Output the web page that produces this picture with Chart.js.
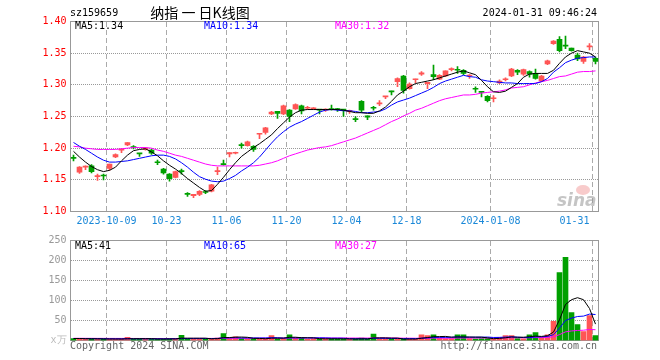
<!DOCTYPE html>
<html>
<head>
<meta charset="utf-8">
<script src="https://cdn.jsdelivr.net/npm/chart.js@4.4.1/dist/chart.umd.min.js"></script>
<style>
  body { margin: 0; background: #fff; }
  #wrap { position: relative; width: 660px; height: 360px; }
  canvas { position: absolute; left: 0; }
  #kline { top: 0; }
  #vol { top: 230px; }
</style>
</head>
<body>
<div id="wrap">
  <canvas id="kline" width="660" height="230"></canvas>
  <canvas id="vol" width="660" height="130"></canvas>
</div>
<script>
// trading days shown
const dates = [
  "2023-09-21","2023-09-22","2023-09-25","2023-09-26","2023-09-27","2023-09-28",
  "2023-10-09","2023-10-10","2023-10-11","2023-10-12","2023-10-13",
  "2023-10-16","2023-10-17","2023-10-18","2023-10-19","2023-10-20",
  "2023-10-23","2023-10-24","2023-10-25","2023-10-26","2023-10-27",
  "2023-10-30","2023-10-31","2023-11-01","2023-11-02","2023-11-03",
  "2023-11-06","2023-11-07","2023-11-08","2023-11-09","2023-11-10",
  "2023-11-13","2023-11-14","2023-11-15","2023-11-16","2023-11-17",
  "2023-11-20","2023-11-21","2023-11-22","2023-11-23","2023-11-24",
  "2023-11-27","2023-11-28","2023-11-29","2023-11-30","2023-12-01",
  "2023-12-04","2023-12-05","2023-12-06","2023-12-07","2023-12-08",
  "2023-12-11","2023-12-12","2023-12-13","2023-12-14","2023-12-15",
  "2023-12-18","2023-12-19","2023-12-20","2023-12-21","2023-12-22",
  "2023-12-25","2023-12-26","2023-12-27","2023-12-28","2023-12-29",
  "2024-01-02","2024-01-03","2024-01-04","2024-01-05",
  "2024-01-08","2024-01-09","2024-01-10","2024-01-11","2024-01-12",
  "2024-01-15","2024-01-16","2024-01-17","2024-01-18","2024-01-19",
  "2024-01-22","2024-01-23","2024-01-24","2024-01-25","2024-01-26",
  "2024-01-29","2024-01-30","2024-01-31"
];

const opens = [1.185,1.162,1.170,1.172,1.155,1.157,1.168,1.186,1.197,1.205,
  1.202,1.192,1.198,1.197,1.178,1.167,1.159,1.154,1.164,1.128,
  1.125,1.127,1.131,1.132,1.163,1.175,1.191,1.192,1.205,1.204,
  1.203,1.222,1.225,1.254,1.258,1.254,1.260,1.262,1.267,1.263,
  1.262,1.261,1.260,1.262,1.262,1.261,1.258,1.246,1.274,1.251,
  1.264,1.270,1.281,1.290,1.305,1.314,1.294,1.308,1.317,1.302,
  1.316,1.309,1.314,1.324,1.324,1.323,1.314,1.294,1.289,1.282,
  1.278,1.303,1.308,1.314,1.323,1.317,1.321,1.318,1.306,1.333,
  1.365,1.372,1.362,1.358,1.347,1.337,1.360,1.342];
const highs = [1.189,1.171,1.172,1.174,1.159,1.159,1.175,1.191,1.199,1.209,
  1.204,1.192,1.201,1.198,1.181,1.168,1.160,1.164,1.167,1.130,
  1.127,1.133,1.133,1.143,1.170,1.181,1.193,1.194,1.208,1.211,
  1.204,1.223,1.233,1.258,1.258,1.268,1.261,1.270,1.268,1.266,
  1.264,1.261,1.262,1.268,1.263,1.261,1.260,1.250,1.275,1.251,
  1.266,1.275,1.282,1.290,1.311,1.315,1.303,1.309,1.321,1.304,
  1.331,1.316,1.322,1.327,1.329,1.324,1.316,1.297,1.289,1.283,
  1.283,1.308,1.311,1.326,1.324,1.325,1.322,1.325,1.315,1.339,
  1.370,1.376,1.377,1.358,1.350,1.345,1.365,1.344];
const lows = [1.180,1.160,1.166,1.161,1.149,1.150,1.165,1.185,1.193,1.204,
  1.199,1.187,1.197,1.190,1.174,1.159,1.148,1.153,1.159,1.124,
  1.122,1.125,1.128,1.131,1.158,1.173,1.186,1.191,1.200,1.203,
  1.195,1.215,1.222,1.253,1.247,1.253,1.242,1.261,1.254,1.261,
  1.261,1.254,1.258,1.260,1.258,1.250,1.255,1.242,1.257,1.245,
  1.260,1.267,1.278,1.284,1.297,1.287,1.293,1.303,1.315,1.294,
  1.308,1.308,1.313,1.322,1.318,1.316,1.310,1.288,1.281,1.273,
  1.273,1.302,1.306,1.313,1.316,1.315,1.312,1.309,1.305,1.332,
  1.364,1.352,1.357,1.353,1.338,1.334,1.355,1.333];
const closes = [1.184,1.170,1.171,1.163,1.156,1.156,1.175,1.190,1.198,1.209,
  1.201,1.191,1.200,1.192,1.177,1.161,1.152,1.163,1.163,1.127,
  1.127,1.132,1.130,1.142,1.164,1.174,1.193,1.193,1.204,1.210,
  1.198,1.223,1.232,1.257,1.255,1.267,1.250,1.269,1.259,1.264,
  1.263,1.260,1.261,1.261,1.261,1.260,1.259,1.245,1.260,1.249,
  1.263,1.271,1.282,1.289,1.310,1.291,1.301,1.309,1.319,1.304,
  1.313,1.315,1.322,1.325,1.323,1.318,1.315,1.293,1.288,1.275,
  1.279,1.306,1.309,1.325,1.320,1.324,1.317,1.310,1.314,1.338,
  1.369,1.354,1.361,1.354,1.341,1.344,1.361,1.337];

const ma5 = [1.195,1.186,1.178,1.171,1.166,1.163,1.165,1.170,1.180,1.189,
  1.196,1.198,1.199,1.194,1.188,1.180,1.173,1.167,1.160,1.152,
  1.145,1.138,1.132,1.133,1.143,1.154,1.166,1.177,1.187,1.194,
  1.201,1.207,1.214,1.221,1.231,1.240,1.249,1.256,1.260,1.261,
  1.261,1.261,1.261,1.261,1.261,1.260,1.258,1.256,1.256,1.255,
  1.255,1.259,1.265,1.274,1.284,1.290,1.297,1.302,1.304,1.306,
  1.308,1.311,1.314,1.317,1.320,1.322,1.319,1.316,1.307,1.297,
  1.289,1.288,1.290,1.296,1.302,1.312,1.317,1.318,1.318,1.318,
  1.323,1.334,1.344,1.350,1.354,1.352,1.350,1.344];
const ma10 = [1.209,1.203,1.198,1.192,1.186,1.181,1.178,1.178,1.179,1.180,
  1.182,1.184,1.186,1.188,1.189,1.189,1.187,1.183,1.177,1.170,
  1.162,1.155,1.151,1.148,1.147,1.148,1.152,1.157,1.164,1.170,
  1.177,1.186,1.197,1.208,1.218,1.226,1.233,1.238,1.242,1.247,
  1.252,1.257,1.260,1.261,1.260,1.259,1.259,1.258,1.256,1.256,
  1.257,1.258,1.262,1.268,1.273,1.276,1.279,1.283,1.287,1.291,
  1.296,1.302,1.306,1.309,1.312,1.315,1.313,1.312,1.308,1.306,
  1.305,1.304,1.303,1.303,1.302,1.302,1.302,1.302,1.305,1.310,
  1.320,1.327,1.335,1.339,1.342,1.343,1.344,1.344];
const ma30 = [1.203,1.202,1.200,1.199,1.198,1.198,1.198,1.198,1.199,1.200,
  1.201,1.201,1.201,1.200,1.197,1.195,1.192,1.189,1.187,1.184,
  1.181,1.178,1.175,1.173,1.172,1.172,1.172,1.172,1.172,1.172,
  1.172,1.173,1.175,1.177,1.180,1.184,1.188,1.191,1.194,1.197,
  1.199,1.201,1.202,1.204,1.207,1.210,1.213,1.216,1.220,1.224,
  1.228,1.232,1.237,1.242,1.246,1.251,1.255,1.260,1.263,1.267,
  1.271,1.275,1.278,1.280,1.282,1.284,1.284,1.285,1.287,1.288,
  1.289,1.290,1.292,1.295,1.296,1.297,1.300,1.303,1.305,1.307,
  1.310,1.313,1.314,1.317,1.320,1.321,1.321,1.322];

// volume in 万
const volumes = [5,4,3,5,4,4,3,3,4,8,
  4,4,3,4,4,4,4,4,13,4,
  4,4,4,5,6,17,5,9,5,4,
  4,4,5,12,4,5,14,6,6,3,
  4,4,4,5,4,4,3,4,6,3,
  16,4,4,3,3,4,4,3,14,12,
  14,6,5,5,14,14,5,4,5,5,
  4,8,12,12,5,4,14,20,8,14,
  48,170,208,70,40,22,62,12];
const volMa5 = [5,5,4.5,4.4,4.2,4,3.8,3.8,3.6,4.4,
  4.4,4.6,4.6,4.6,3.8,3.8,4,4,5.8,5.8,
  5.8,5.8,5.8,4.2,4.6,7.2,7.4,8.4,8.6,8,
  5.4,5.2,4.4,5.8,5.8,6,8,8.2,7,6.8,
  6.6,4.6,4.2,4.2,4.2,4.2,4,3.8,4.2,4,
  6.4,6.6,6.6,6,6,3.6,3.6,3.6,5.6,7.4,
  9.4,9.8,10.2,8.4,8.8,8.8,8.6,8.4,8.4,6.6,
  4.6,5.2,6.8,8.8,8.2,8.2,9.4,11,10.2,12,
  21,52,90,102,107,102,80,41];
const volMa10 = [5,5,4.8,4.6,4.5,4.4,4.2,4.1,4.1,4.3,
  4.2,4.2,4.2,4.1,4.1,4.1,4.2,4.3,4.7,4.8,
  4.8,4.8,4.9,4.9,5.2,6.5,6.6,7.1,6.3,6.3,
  6.3,6.3,6.4,7.1,7,5.8,6.7,6.4,6.5,6.4,
  6.6,6.6,6.5,5.8,5.8,5.7,4.6,4.4,4.4,4.4,
  5.5,5.5,5.3,5,5,4.8,4.8,4.8,5.7,6.6,
  7.6,7.8,7.8,8,9,8.2,8.3,8.3,8.3,8.6,
  7.6,7.8,8.5,9.2,8.3,7.3,7.3,8.9,9.2,10.1,
  14.5,31,50,56,60,61,66,65];
const volMa30 = [5.5,5.5,5.4,5.4,5.3,5.3,5.2,5.2,5.2,5.2,
  5.1,5.1,5.1,5.0,5.0,5.0,5.0,5.0,5.2,5.2,
  5.2,5.2,5.2,5.2,5.3,5.6,5.6,5.8,5.8,5.8,
  5.8,5.8,5.8,6.0,6.0,6.0,6.3,6.3,6.4,6.3,
  6.3,6.3,6.3,6.3,6.3,6.3,6.2,6.2,6.2,6.1,
  6.5,6.5,6.5,6.3,6.2,5.8,5.8,5.6,5.6,5.6,
  5.9,5.9,5.9,5.6,6.0,6.2,6.2,6.2,6.3,6.3,
  6.3,6.4,6.6,6.9,6.9,6.9,6.9,7.4,7.5,7.7,
  9.2,14.7,21.6,23.9,25.1,25.7,27.6,27];

const tickDates = ["2023-10-09","2023-10-23","2023-11-06","2023-11-20","2023-12-04","2023-12-18","2024-01-08","2024-01-31"];
const tickLabels = ["2023-10-09","10-23","11-06","11-20","12-04","12-18","2024-01-08","01-31"];

const UP = "#ff5555", DOWN = "#00a000";
const MONO = "DejaVu Sans Mono";
const tickIdx = tickDates.map(d => dates.indexOf(d));
const colors = closes.map((c, i) => c >= opens[i] ? UP : DOWN);

// box, dotted / dashed grid, watermark, and the text bits
const textPlugin = {
  id: "texts",
  beforeDatasetsDraw(chart, args, opts) {
    const { ctx, chartArea: a, scales } = chart;
    ctx.save();
    // horizontal dotted lines at y ticks
    ctx.fillStyle = "#999";
    scales.y.ticks.forEach(t => {
      const py = Math.floor(scales.y.getPixelForValue(t.value));
      for (let x = Math.ceil(a.left); x < a.right; x += 2) ctx.fillRect(x, py, 1, 1);
    });
    // vertical dashed lines at labelled dates
    ctx.fillStyle = "#aaa";
    const slot = (a.right - a.left) / dates.length;
    tickIdx.forEach(i => {
      const px = Math.floor(a.left + slot * i);
      for (let y = Math.ceil(a.top); y < a.bottom; y += 8) ctx.fillRect(px, y, 1, Math.min(5, a.bottom - y));
    });
    ctx.strokeStyle = "#999";
    ctx.lineWidth = 1;
    ctx.strokeRect(a.left, a.top, a.right - a.left, a.bottom - a.top);
    if (opts.logo) {
      ctx.fillStyle = "rgba(240,140,140,0.45)";
      ctx.beginPath();
      ctx.ellipse(583, 190, 7, 5, 0, 0, Math.PI * 2);
      ctx.fill();
      ctx.font = "italic bold 17px 'DejaVu Sans'";
      ctx.fillStyle = "rgba(150,150,150,0.55)";
      ctx.fillText("sina", 557, 206);
    }
    ctx.restore();
  },
  afterDraw(chart, args, opts) {
    const ctx = chart.ctx;
    ctx.save();
    ctx.textBaseline = "middle";
    opts.items.forEach(t => {
      ctx.font = t.font || "10px " + MONO;
      ctx.fillStyle = t.color || "#000";
      ctx.textAlign = t.align || "left";
      ctx.fillText(t.text, t.x, t.y);
    });
    ctx.restore();
  }
};

function xAxis(showLabels, h) {
  return {
    type: "category",
    offset: true,
    grid: { display: false, drawTicks: false },
    border: { display: false },
    ticks: {
      display: showLabels,
      autoSkip: false,
      maxRotation: 0,
      padding: 4,
      labelOffset: -3,
      color: "#1a88d8",
      font: { family: MONO, size: 10 },
      callback: (v, i) => {
        const k = tickIdx.indexOf(i);
        if (k < 0) return "";
        // last label sits left of its grid line, as in the original
        return k === tickIdx.length - 1 ? tickLabels[k] + "      " : tickLabels[k];
      }
    },
    afterFit: s => { s.height = h; }
  };
}

const line = (data, color) => ({
  type: "line", data, borderColor: color, borderWidth: 1,
  pointRadius: 0, tension: 0, fill: false, order: 0
});

new Chart(document.getElementById("kline"), {
  data: {
    labels: dates,
    datasets: [
      {
        type: "bar", data: lows.map((l, i) => [l, highs[i]]),
        backgroundColor: colors, barThickness: 1, grouped: false, order: 2
      },
      {
        type: "bar", data: opens.map((o, i) => [o, closes[i]]),
        backgroundColor: colors, barThickness: 5, minBarLength: 1, grouped: false, order: 1
      },
      line(ma5, "#000000"),
      line(ma10, "#0000ff"),
      line(ma30, "#ff00ff")
    ]
  },
  options: {
    responsive: false,
    animation: false,
    devicePixelRatio: 1,
    layout: { padding: { left: 0, right: 61.5, top: 21.5, bottom: 0 } },
    plugins: {
      legend: { display: false },
      tooltip: { enabled: false },
      texts: {
        logo: true,
        items: [
          { text: "sz159659", x: 70, y: 13 },
          { text: "纳指 一 日K线图", x: 200, y: 13, align: "center", font: "14px 'Noto Sans CJK SC'" },
          { text: "2024-01-31 09:46:24", x: 597, y: 13, align: "right" },
          { text: "MA5:" + ma5[ma5.length - 1].toFixed(2), x: 75, y: 26, color: "#000" },
          { text: "MA10:" + ma10[ma10.length - 1].toFixed(2), x: 204, y: 26, color: "#0000ff" },
          { text: "MA30:" + ma30[ma30.length - 1].toFixed(2), x: 335, y: 26, color: "#ff00ff" }
        ]
      }
    },
    scales: {
      x: xAxis(true, 18.5),
      y: {
        min: 1.10, max: 1.40,
        grid: { display: false, drawTicks: false },
        border: { display: false },
        ticks: {
          stepSize: 0.05, padding: 4, color: "#ff0000",
          font: { family: MONO, size: 10 },
          callback: v => v.toFixed(2)
        },
        afterFit: s => { s.width = 70.5; }
      }
    }
  },
  plugins: [textPlugin]
});

new Chart(document.getElementById("vol"), {
  data: {
    labels: dates,
    datasets: [
      {
        type: "bar", data: volumes, backgroundColor: colors,
        barThickness: 5, minBarLength: 1, order: 1
      },
      line(volMa5, "#000000"),
      line(volMa10, "#0000ff"),
      line(volMa30, "#ff00ff")
    ]
  },
  options: {
    responsive: false,
    animation: false,
    devicePixelRatio: 1,
    layout: { padding: { left: 0, right: 61.5, top: 10.5, bottom: 0 } },
    plugins: {
      legend: { display: false },
      tooltip: { enabled: false },
      texts: {
        items: [
          { text: "MA5:" + Math.round(volMa5[volMa5.length - 1]), x: 75, y: 16.5, color: "#000" },
          { text: "MA10:" + Math.round(volMa10[volMa10.length - 1]), x: 204, y: 16.5, color: "#0000ff" },
          { text: "MA30:" + Math.round(volMa30[volMa30.length - 1]), x: 335, y: 16.5, color: "#ff00ff" },
          { text: "Copyright 2024 SINA.COM", x: 70, y: 116, color: "#666" },
          { text: "http://finance.sina.com.cn", x: 597, y: 116, align: "right", color: "#666" }
        ]
      }
    },
    scales: {
      x: xAxis(false, 19.5),
      y: {
        min: 0, max: 250,
        grid: { display: false, drawTicks: false },
        border: { display: false },
        ticks: {
          stepSize: 50, padding: 4,
          color: c => c.tick && c.tick.value === 0 ? "#bbb" : "#999",
          font: { family: MONO, size: 10 },
          callback: v => v === 0 ? "x万" : v
        },
        afterFit: s => { s.width = 70.5; }
      }
    }
  },
  plugins: [textPlugin]
});
</script>
</body>
</html>
